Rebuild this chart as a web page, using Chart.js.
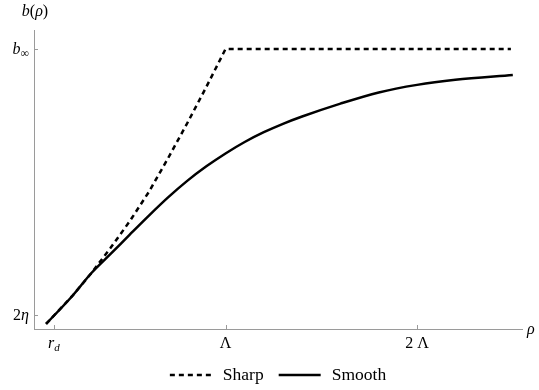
<!DOCTYPE html>
<html>
<head>
<meta charset="utf-8">
<script src="https://cdn.jsdelivr.net/npm/chart.js@4/dist/chart.umd.min.js"></script>
<style>
  html, body { margin: 0; padding: 0; background: #fff; }
  #wrap { width: 539px; height: 390px; }
</style>
</head>
<body>
<div id="wrap"><canvas id="chart" width="539" height="390"></canvas></div>
<script>
// rho in units of Lambda, b in units of b_inf
var sharpRho = [0.063, 0.2, 0.3, 0.4, 0.5, 0.6, 0.7, 0.8, 0.9, 1.0, 2.49];
var sharpB   = [0.018, 0.118, 0.200, 0.290, 0.385, 0.490, 0.610, 0.735, 0.865, 1.0, 1.0];

var smoothRho = [0.063, 0.2, 0.3, 0.4, 0.5, 0.6, 0.7, 0.8, 0.9, 1.0, 1.1, 1.2, 1.3, 1.4, 1.6, 1.8, 2.0, 2.2, 2.5];
var smoothB   = [0.018, 0.118, 0.200, 0.268, 0.337, 0.405, 0.470, 0.529, 0.581, 0.627, 0.668, 0.703, 0.733, 0.759, 0.805, 0.845, 0.872, 0.890, 0.907];

var xTickVals = [0.104, 1, 2];   // r_d, Λ, 2 Λ
var yTickVals = [0.05, 1];       // 2η, b∞

var serif = "'Liberation Serif', 'DejaVu Serif', serif";
var axisColor = '#9a9a9a';

function pts(xs, ys) {
    var out = [];
    for (var i = 0; i < xs.length; i++) {
        out.push({x: xs[i], y: ys[i]});
    }
    return out;
}

// draw a list of text runs (mixed italic / sub) starting at x
function drawRuns(ctx, runs, x, y, align) {
    var total = 0;
    runs.forEach(function (r) {
        ctx.font = (r.it ? 'italic ' : '') + (r.size || 16) + 'px ' + serif;
        r.w = ctx.measureText(r.t).width;
        total += r.w;
    });
    var cx = x;
    if (align === 'center') cx = x - total / 2;
    if (align === 'right') cx = x - total;
    runs.forEach(function (r) {
        ctx.font = (r.it ? 'italic ' : '') + (r.size || 16) + 'px ' + serif;
        ctx.fillText(r.t, cx, y + (r.dy || 0));
        cx += r.w;
    });
}

var labelsPlugin = {
    id: 'labelsPlugin',
    afterDraw: function (chart) {
        var ctx = chart.ctx;
        var xs = chart.scales.x, ys = chart.scales.y;
        var a = chart.chartArea;
        ctx.save();

        // tick marks, inside the axes
        ctx.strokeStyle = axisColor;
        ctx.lineWidth = 1;
        xTickVals.forEach(function (v) {
            var px = Math.round(xs.getPixelForValue(v)) + 0.5;
            ctx.beginPath();
            ctx.moveTo(px, a.bottom);
            ctx.lineTo(px, a.bottom - 4);
            ctx.stroke();
        });
        yTickVals.forEach(function (v) {
            var py = Math.round(ys.getPixelForValue(v)) + 0.5;
            ctx.beginPath();
            ctx.moveTo(a.left, py);
            ctx.lineTo(a.left + 4, py);
            ctx.stroke();
        });

        ctx.fillStyle = '#000';
        ctx.textBaseline = 'alphabetic';

        // x tick labels
        var by = a.bottom + 19;
        drawRuns(ctx, [{t: 'r', it: true}, {t: 'd', it: true, size: 11, dy: 3}], xs.getPixelForValue(xTickVals[0]), by, 'center');
        drawRuns(ctx, [{t: 'Λ'}], xs.getPixelForValue(xTickVals[1]), by, 'center');
        drawRuns(ctx, [{t: '2 Λ'}], xs.getPixelForValue(xTickVals[2]), by, 'center');

        // y tick labels
        var lx = a.left - 5;
        drawRuns(ctx, [{t: 'b', it: true}, {t: '∞', size: 12, dy: 3}], lx, ys.getPixelForValue(yTickVals[1]) + 5, 'right');
        drawRuns(ctx, [{t: '2'}, {t: 'η', it: true}], lx, ys.getPixelForValue(yTickVals[0]) + 5, 'right');

        // axis titles
        drawRuns(ctx, [{t: 'ρ', it: true}], a.right + 5, a.bottom + 5, 'left');
        drawRuns(ctx, [{t: 'b', it: true}, {t: '('}, {t: 'ρ', it: true}, {t: ')'}], a.left + 1, a.top - 14, 'center');

        // legend
        var lf = '17.5px ' + serif;
        var items = chart.data.datasets.map(function (ds) {
            ctx.font = lf;
            return {label: ds.label, dash: ds.borderDash || [], w: ds.borderWidth, tw: ctx.measureText(ds.label).width};
        });
        var sample = 42, gapIn = 11, gapOut = 15;
        var total = 0;
        items.forEach(function (it, i) {
            total += sample + gapIn + it.tw + (i < items.length - 1 ? gapOut : 0);
        });
        var lxx = (a.left + a.right) / 2 - total / 2;
        var ly = 375;
        items.forEach(function (it) {
            ctx.strokeStyle = '#000';
            ctx.lineWidth = it.w;
            ctx.setLineDash(it.dash);
            ctx.beginPath();
            ctx.moveTo(lxx, ly);
            ctx.lineTo(lxx + sample, ly);
            ctx.stroke();
            ctx.setLineDash([]);
            ctx.font = lf;
            ctx.fillText(it.label, lxx + sample + gapIn, ly + 5);
            lxx += sample + gapIn + it.tw + gapOut;
        });

        ctx.restore();
    }
};

new Chart(document.getElementById('chart'), {
    type: 'line',
    data: {
        datasets: [
            {
                label: 'Sharp',
                data: pts(sharpRho, sharpB),
                borderColor: '#000',
                borderWidth: 2.5,
                borderDash: [5, 4],
                pointRadius: 0,
                tension: 0,
                fill: false
            },
            {
                label: 'Smooth',
                data: pts(smoothRho, smoothB),
                borderColor: '#000',
                borderWidth: 2.5,
                pointRadius: 0,
                cubicInterpolationMode: 'monotone',
                fill: false
            }
        ]
    },
    options: {
        responsive: false,
        animation: false,
        layout: {padding: {left: 34, right: 17, top: 30, bottom: 61}},
        plugins: {
            legend: {display: false},
            tooltip: {enabled: false}
        },
        scales: {
            x: {
                type: 'linear',
                min: 0,
                max: 2.548,
                afterBuildTicks: function (scale) {
                    scale.ticks = xTickVals.map(function (v) { return {value: v}; });
                },
                ticks: {display: false},
                grid: {display: false, drawTicks: false},
                border: {display: true, color: axisColor, width: 1}
            },
            y: {
                type: 'linear',
                min: 0,
                max: 1.068,
                afterBuildTicks: function (scale) {
                    scale.ticks = yTickVals.map(function (v) { return {value: v}; });
                },
                ticks: {display: false},
                grid: {display: false, drawTicks: false},
                border: {display: true, color: axisColor, width: 1}
            }
        }
    },
    plugins: [labelsPlugin]
});
</script>
</body>
</html>
